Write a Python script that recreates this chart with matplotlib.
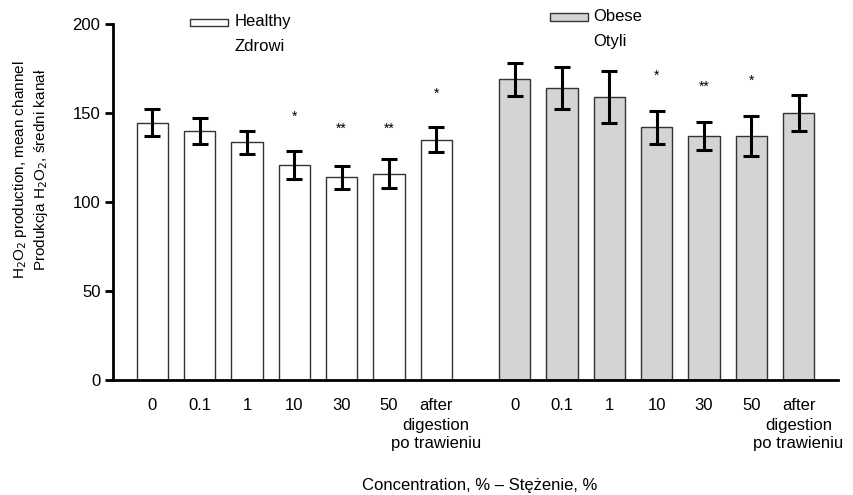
import numpy as np
import matplotlib
matplotlib.use('Agg')
import matplotlib.pyplot as plt
from matplotlib.patches import Rectangle
from matplotlib.transforms import blended_transform_factory

plt.rcParams['font.family'] = ['Liberation Sans', 'DejaVu Sans']

# data
categories = ['0', '0.1', '1', '10', '30', '50', 'after\ndigestion\npo trawieniu']
healthy = [144.5, 140, 133.5, 121, 114, 116, 135]
healthy_err = [7.5, 7.3, 6.4, 7.8, 6.5, 8, 7]
obese = [169, 164, 159, 142, 137, 137, 150]
obese_err = [9.3, 12, 14.4, 9.3, 8, 11.3, 10.3]
healthy_stars = ['', '', '', '*', '**', '**', '*']
obese_stars = ['', '', '', '*', '**', '*', '']
healthy_star_y = [0, 0, 0, 148, 141, 141, 161]
obese_star_y = [0, 0, 0, 171, 165, 168, 0]

x_h = np.arange(len(categories))
x_o = x_h + len(categories) + 0.66
w = 0.66
fs = 12

fig = plt.figure(figsize=(8.54, 4.95), dpi=100)
ax = fig.add_axes([0.1323, 0.2323, 0.8487, 0.7192])

ekw = dict(elinewidth=2.2, capthick=2.2, capsize=6, ecolor='black')
ax.bar(x_h, healthy, w, color='white', edgecolor='#333333', linewidth=1,
       yerr=healthy_err, error_kw=ekw, zorder=2)
ax.bar(x_o, obese, w, color='#d4d4d4', edgecolor='#333333', linewidth=1,
       yerr=obese_err, error_kw=ekw, zorder=2)

for xi, s, yy in zip(x_h, healthy_stars, healthy_star_y):
    if s:
        ax.text(xi, yy, s, ha='center', va='center', fontsize=10)
for xi, s, yy in zip(x_o, obese_stars, obese_star_y):
    if s:
        ax.text(xi, yy, s, ha='center', va='center', fontsize=10)

ax.set_xlim(-0.835, 14.49)
ax.set_ylim(0, 200)
ax.set_yticks([0, 50, 100, 150, 200])

# tick labels: first line as tick label, remaining lines as separate text
first_lines = [c.split('\n')[0] for c in categories]
ax.set_xticks(np.concatenate([x_h, x_o]))
ax.set_xticklabels(first_lines * 2, fontsize=fs)
trans = blended_transform_factory(ax.transData, ax.transAxes)
for xi, c in zip(np.concatenate([x_h, x_o]), categories * 2):
    rest = c.split('\n')[1:]
    if rest:
        ax.text(xi, -0.153, '\n'.join(rest), transform=trans, ha='center',
                va='center', fontsize=fs, linespacing=1.2)

ax.tick_params(axis='x', length=0, pad=13)
ax.tick_params(axis='y', length=6, width=2, labelsize=fs, pad=3)
for s in ['top', 'right']:
    ax.spines[s].set_visible(False)
for s in ['left', 'bottom']:
    ax.spines[s].set_linewidth(2)

ax.set_xlabel('Concentration, % – Stężenie, %', fontsize=fs)
ax.xaxis.set_label_coords(0.506, -0.275)
ax.set_ylabel('H$_2$O$_2$ production, mean channel\nProdukcja H$_2$O$_2$, średni kanał',
              fontsize=11, linespacing=1.25)
ax.yaxis.set_label_coords(-0.087, 0.59)

# legend
ax.add_patch(Rectangle((0.106, 0.994), 0.053, 0.021, transform=ax.transAxes,
                       facecolor='white', edgecolor='#333333', lw=1, clip_on=False))
ax.text(0.168, 1.006, 'Healthy', transform=ax.transAxes, va='center', fontsize=fs)
ax.text(0.168, 0.938, 'Zdrowi', transform=ax.transAxes, va='center', fontsize=fs)
ax.add_patch(Rectangle((0.603, 1.009), 0.052, 0.022, transform=ax.transAxes,
                       facecolor='#d4d4d4', edgecolor='#333333', lw=1, clip_on=False))
ax.text(0.663, 1.020, 'Obese', transform=ax.transAxes, va='center', fontsize=fs)
ax.text(0.663, 0.952, 'Otyli', transform=ax.transAxes, va='center', fontsize=fs)

fig.savefig('out.png', dpi=100)
